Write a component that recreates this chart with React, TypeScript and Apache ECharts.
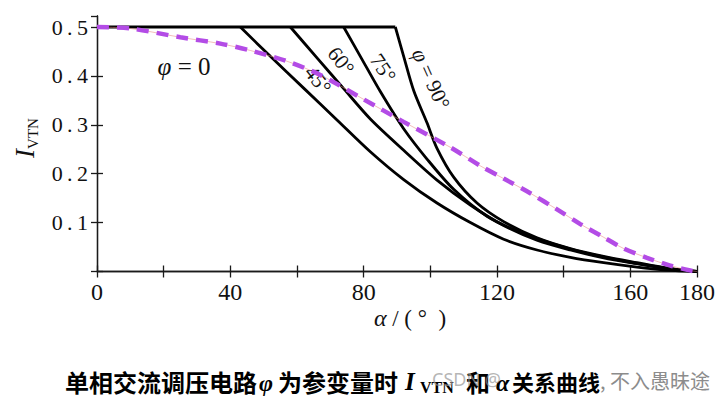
import React, { useEffect, useRef } from "react";
import * as echarts from "echarts";

const xTickLabels = [0, 40, 80, 120, 160, 180];
const yTickLabels = [0.1, 0.2, 0.3, 0.4, 0.5];

// flat segment shared by all curves (continuous conduction)
const plateau = [[0, 0.5], [89.5, 0.5]];

// phi = 0 (dashed)
const phi0 = [
  [0, 0.5], [10, 0.497], [25, 0.479], [37, 0.466], [46, 0.452], [57, 0.43], [67, 0.402],
  [80, 0.352], [92, 0.306], [106, 0.254], [115, 0.216], [122, 0.19], [130, 0.16],
  [138, 0.127], [145, 0.097], [152, 0.07], [158, 0.047], [165, 0.028], [172, 0.012],
  [178, 0.002], [180, 0],
];

const phi45 = [
  [43, 0.5], [52, 0.44], [62, 0.375], [72, 0.31], [82, 0.245], [92, 0.188], [102, 0.14],
  [112, 0.1], [122, 0.066], [132, 0.044], [142, 0.029], [152, 0.018], [162, 0.009],
  [171, 0.003], [180, 0],
];

const phi60 = [
  [58, 0.5], [66, 0.437], [74, 0.374], [82, 0.312], [92, 0.248], [102, 0.187], [112, 0.136],
  [122, 0.094], [132, 0.064], [142, 0.044], [152, 0.028], [162, 0.016], [171, 0.006], [180, 0],
];

const phi75 = [
  [74, 0.5], [79, 0.44], [85, 0.368], [92, 0.292], [99, 0.23], [107, 0.168], [117, 0.113],
  [127, 0.08], [137, 0.056], [147, 0.037], [157, 0.023], [166, 0.012], [174, 0.004], [180, 0],
];

const phi90 = [
  [89.5, 0.5], [92, 0.44], [95, 0.37], [99, 0.304], [102, 0.252], [107, 0.193], [114, 0.14],
  [122, 0.102], [132, 0.069], [142, 0.047], [152, 0.031], [162, 0.018], [171, 0.007], [180, 0],
];

const SERIF = "'Liberation Serif', 'DejaVu Serif', serif";
const CJK = "'Noto Sans CJK SC', sans-serif";
const deg = (d: number) => (d * Math.PI) / 180;

export default function App() {
  const ref = useRef<HTMLDivElement>(null);

  useEffect(() => {
    document.body.style.margin = "0";
    const chart = echarts.init(ref.current!, null, { renderer: "svg" });

    const axisLineStyle = { color: "#1a1a1a", width: 1.3 };
    const blackLine = (data: number[][], smooth: number | boolean) => ({
      type: "line",
      data,
      smooth,
      showSymbol: false,
      symbol: "none",
      lineStyle: { color: "#000", width: 2.8 },
      z: 3,
      silent: true,
    });

    const isYLabel = (v: number) => yTickLabels.some((t) => Math.abs(t - v) < 1e-6);

    const option: any = {
      animation: false,
      backgroundColor: "#fff",
      grid: { left: 97, right: 30, top: 16, bottom: 125.5, containLabel: false, outerBoundsMode: "none" },
      xAxis: [
        {
          type: "value",
          min: 0,
          max: 180,
          interval: 20,
          position: "bottom",
          splitLine: { show: false },
          axisLine: { show: true, lineStyle: axisLineStyle },
          axisTick: { show: true, inside: true, length: 6, lineStyle: axisLineStyle },
          axisLabel: {
            margin: 8,
            fontFamily: SERIF,
            fontSize: 24,
            color: "#111",
            formatter: (v: number) => (xTickLabels.includes(Math.round(v)) ? String(Math.round(v)) : ""),
          },
        },
        {
          type: "value",
          min: 0,
          max: 180,
          interval: 20,
          position: "top",
          splitLine: { show: false },
          axisLine: { show: true, lineStyle: axisLineStyle },
          axisTick: { show: true, inside: true, length: 6, lineStyle: axisLineStyle },
          axisLabel: { show: false },
        },
      ],
      yAxis: [
        {
          type: "value",
          min: 0,
          max: 0.5225,
          interval: 0.1,
          position: "left",
          splitLine: { show: false },
          axisLine: { show: true, lineStyle: axisLineStyle },
          axisTick: { show: true, inside: true, length: 6, lineStyle: axisLineStyle },
          axisLabel: {
            margin: 9,
            fontFamily: SERIF,
            fontSize: 22,
            color: "#111",
            showMaxLabel: false,
            formatter: (v: number) => (isYLabel(v) ? v.toFixed(1).split("").join("\u2009") : ""),
          },
        },
        {
          type: "value",
          min: 0,
          max: 0.5225,
          interval: 0.1,
          position: "right",
          splitLine: { show: false },
          axisLine: { show: true, lineStyle: axisLineStyle },
          axisTick: { show: true, inside: true, length: 6, lineStyle: axisLineStyle },
          axisLabel: { show: false },
        },
      ],
      series: [
        blackLine(plateau, false),
        blackLine(phi45, 0.3),
        blackLine(phi60, 0.3),
        blackLine(phi75, 0.3),
        blackLine(phi90, 0.3),
        {
          type: "line",
          data: phi0,
          smooth: 0.3,
          showSymbol: false,
          symbol: "none",
          lineStyle: { color: "#e88a84", width: 0.8, opacity: 0.7 },
          z: 4,
          silent: true,
        },
        {
          type: "line",
          data: phi0,
          smooth: 0.3,
          showSymbol: false,
          symbol: "none",
          lineStyle: { color: "#b34ce6", width: 4.5, type: [12, 8], cap: "butt" },
          z: 5,
          silent: true,
        },
      ],
      graphic: [
        // y axis name
        {
          type: "text",
          x: 25,
          y: 138,
          rotation: deg(90),
          style: {
            text: "{i|I}{s|VTN}",
            align: "center",
            verticalAlign: "middle",
            fill: "#111",
            rich: {
              i: { fontFamily: SERIF, fontStyle: "italic", fontSize: 27, lineHeight: 30 },
              s: { fontFamily: SERIF, fontSize: 15, lineHeight: 15, verticalAlign: "bottom" },
            },
          },
        },
        // x axis name
        {
          type: "text",
          x: 410,
          y: 318,
          style: {
            text: "{a|α} / ( °  )",
            align: "center",
            verticalAlign: "middle",
            fill: "#111",
            fontFamily: SERIF,
            fontSize: 23,
            rich: { a: { fontFamily: SERIF, fontStyle: "italic", fontSize: 24 } },
          },
        },
        // curve labels
        {
          type: "text",
          x: 184,
          y: 66,
          style: {
            text: "{p|φ} = 0",
            align: "center",
            verticalAlign: "middle",
            fill: "#111",
            fontFamily: SERIF,
            fontSize: 25,
            rich: { p: { fontFamily: SERIF, fontStyle: "italic", fontSize: 25 } },
          },
        },
        {
          type: "text",
          x: 318,
          y: 80,
          rotation: deg(-52),
          style: { text: "45°", align: "center", verticalAlign: "middle", fill: "#111", fontFamily: SERIF, fontSize: 21 },
        },
        {
          type: "text",
          x: 341,
          y: 61,
          rotation: deg(-52),
          style: { text: "60°", align: "center", verticalAlign: "middle", fill: "#111", fontFamily: SERIF, fontSize: 21 },
        },
        {
          type: "text",
          x: 383,
          y: 68,
          rotation: deg(-56),
          style: { text: "75°", align: "center", verticalAlign: "middle", fill: "#111", fontFamily: SERIF, fontSize: 21 },
        },
        {
          type: "text",
          x: 431,
          y: 79,
          rotation: deg(-66),
          style: {
            text: "{p|φ} = 90°",
            align: "center",
            verticalAlign: "middle",
            fill: "#111",
            fontFamily: SERIF,
            fontSize: 21,
            rich: { p: { fontFamily: SERIF, fontStyle: "italic", fontSize: 22 } },
          },
        },
        // caption
        {
          type: "text",
          x: 65,
          y: 381,
          style: { text: "单相交流调压电路", align: "left", verticalAlign: "middle", fill: "#000", fontFamily: CJK, fontWeight: "bold", fontSize: 24 },
        },
        {
          type: "text",
          x: 259,
          y: 383,
          style: { text: "φ", align: "left", verticalAlign: "middle", fill: "#000", fontFamily: SERIF, fontStyle: "italic", fontWeight: "bold", fontSize: 24 },
        },
        {
          type: "text",
          x: 278,
          y: 381,
          style: { text: "为参变量时", align: "left", verticalAlign: "middle", fill: "#000", fontFamily: CJK, fontWeight: "bold", fontSize: 24 },
        },
        {
          type: "text",
          x: 405,
          y: 381,
          style: { text: "I", align: "left", verticalAlign: "middle", fill: "#000", fontFamily: SERIF, fontStyle: "italic", fontWeight: "bold", fontSize: 25 },
        },
        {
          type: "text",
          x: 420,
          y: 387,
          style: { text: "VTN", align: "left", verticalAlign: "middle", fill: "#000", fontFamily: SERIF, fontWeight: "bold", fontSize: 16 },
        },
        {
          type: "text",
          x: 466,
          y: 381,
          style: { text: "和", align: "left", verticalAlign: "middle", fill: "#000", fontFamily: CJK, fontWeight: "bold", fontSize: 24 },
        },
        {
          type: "text",
          x: 496,
          y: 383,
          style: { text: "α", align: "left", verticalAlign: "middle", fill: "#000", fontFamily: SERIF, fontStyle: "italic", fontWeight: "bold", fontSize: 24 },
        },
        {
          type: "text",
          x: 512,
          y: 381,
          style: { text: "关系曲线", align: "left", verticalAlign: "middle", fill: "#000", fontFamily: CJK, fontWeight: "bold", fontSize: 22 },
        },
        // watermark (overlays the caption, as in the reference)
        {
          type: "text",
          x: 432,
          y: 379,
          style: { text: "CSDN @", align: "left", verticalAlign: "middle", fill: "rgba(150,150,150,0.7)", fontFamily: "'Noto Sans', sans-serif", fontSize: 18 },
        },
        {
          type: "text",
          x: 600,
          y: 380,
          style: { text: ", 不入愚昧途", align: "left", verticalAlign: "middle", fill: "#8c8c8c", fontFamily: CJK, fontSize: 20 },
        },
      ],
    };

    chart.setOption(option);
    return () => chart.dispose();
  }, []);

  return <div ref={ref} style={{ width: 727, height: 397, background: "#fff" }} />;
}
